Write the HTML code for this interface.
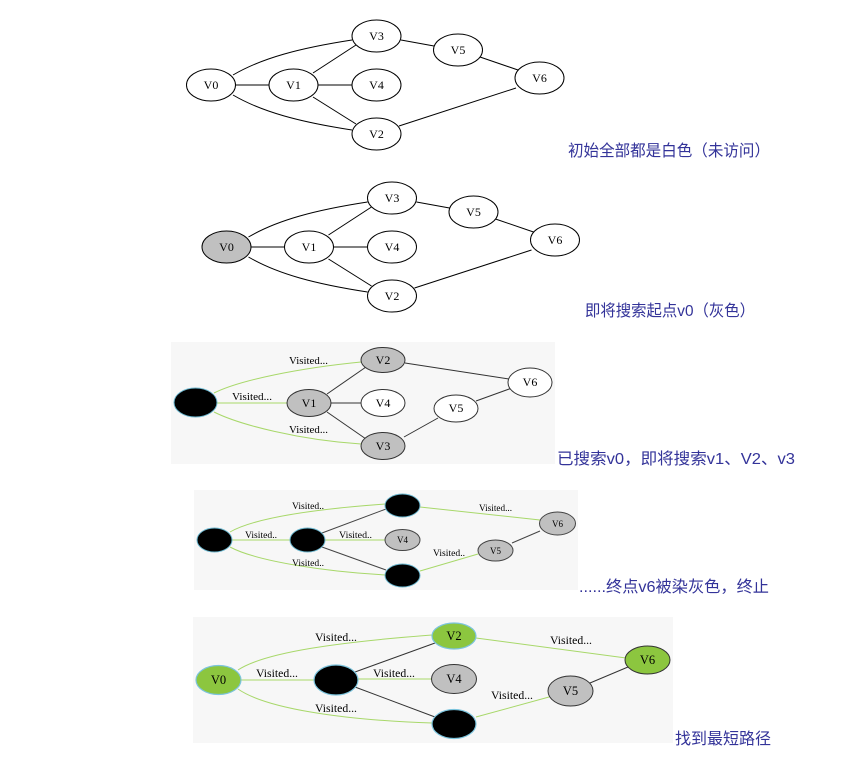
<!DOCTYPE html>
<html>
<head>
<meta charset="utf-8">
<style>
html,body{margin:0;padding:0;background:#fff;}
body{width:866px;height:759px;overflow:hidden;}
svg{display:block;}
.n{font-family:"Liberation Serif",serif;fill:#000;text-anchor:middle;}
.cap{font-family:"Liberation Sans","Noto Sans CJK SC",sans-serif;font-size:16px;fill:#333399;}
.lab{font-family:"Liberation Serif",serif;fill:#000;}
</style>
</head>
<body>
<svg width="866" height="759" viewBox="0 0 866 759" xmlns="http://www.w3.org/2000/svg">
<!-- ============ Graph 1 ============ -->
<g id="g1" stroke="#000" stroke-width="1" fill="none">
  <path d="M233,75 C262,58 300,48 352,40"/>
  <path d="M233,95 C262,112 300,122 352,130"/>
  <line x1="235" y1="85" x2="269" y2="85"/>
  <line x1="313" y1="73" x2="356" y2="45"/>
  <line x1="318" y1="85" x2="352" y2="85"/>
  <line x1="313" y1="97" x2="356" y2="124"/>
  <line x1="401" y1="40" x2="434" y2="46"/>
  <line x1="480" y1="57" x2="518" y2="70"/>
  <line x1="399" y1="126" x2="516" y2="88"/>
</g>
<g fill="#fff" stroke="#000" stroke-width="1">
  <ellipse cx="211" cy="85" rx="24.5" ry="16"/>
  <ellipse cx="293.5" cy="85" rx="24.5" ry="16"/>
  <ellipse cx="376.5" cy="36" rx="24.5" ry="16"/>
  <ellipse cx="376.5" cy="85" rx="24.5" ry="16"/>
  <ellipse cx="376.5" cy="134" rx="24.5" ry="16"/>
  <ellipse cx="458" cy="50" rx="24.5" ry="16"/>
  <ellipse cx="539.5" cy="78" rx="24.5" ry="16"/>
</g>
<g class="n" font-size="12">
  <text x="211" y="89">V0</text>
  <text x="293.5" y="89">V1</text>
  <text x="376.5" y="40">V3</text>
  <text x="376.5" y="89">V4</text>
  <text x="376.5" y="138">V2</text>
  <text x="458" y="54">V5</text>
  <text x="539.5" y="82">V6</text>
</g>
<text class="cap" x="568" y="156" textLength="202" lengthAdjust="spacingAndGlyphs">初始全部都是白色（未访问）</text>

<!-- ============ Graph 2 ============ -->
<g transform="translate(15.5,162)">
<g stroke="#000" stroke-width="1" fill="none">
  <path d="M233,75 C262,58 300,48 352,40"/>
  <path d="M233,95 C262,112 300,122 352,130"/>
  <line x1="235" y1="85" x2="269" y2="85"/>
  <line x1="313" y1="73" x2="356" y2="45"/>
  <line x1="318" y1="85" x2="352" y2="85"/>
  <line x1="313" y1="97" x2="356" y2="124"/>
  <line x1="401" y1="40" x2="434" y2="46"/>
  <line x1="480" y1="57" x2="518" y2="70"/>
  <line x1="399" y1="126" x2="516" y2="88"/>
</g>
<g fill="#fff" stroke="#000" stroke-width="1">
  <ellipse cx="211" cy="85" rx="24.5" ry="16" fill="#c0c0c0"/>
  <ellipse cx="293.5" cy="85" rx="24.5" ry="16"/>
  <ellipse cx="376.5" cy="36" rx="24.5" ry="16"/>
  <ellipse cx="376.5" cy="85" rx="24.5" ry="16"/>
  <ellipse cx="376.5" cy="134" rx="24.5" ry="16"/>
  <ellipse cx="458" cy="50" rx="24.5" ry="16"/>
  <ellipse cx="539.5" cy="78" rx="24.5" ry="16"/>
</g>
<g class="n" font-size="12">
  <text x="211" y="89">V0</text>
  <text x="293.5" y="89">V1</text>
  <text x="376.5" y="40">V3</text>
  <text x="376.5" y="89">V4</text>
  <text x="376.5" y="138">V2</text>
  <text x="458" y="54">V5</text>
  <text x="539.5" y="82">V6</text>
</g>
</g>
<text class="cap" x="585" y="316" textLength="170" lengthAdjust="spacingAndGlyphs">即将搜索起点v0（灰色）</text>

<!-- ============ Graph 3 ============ -->
<rect x="171" y="342" width="384" height="122" fill="#f7f7f7"/>
<g fill="none" stroke-width="1">
  <path d="M214,393 C240,380 300,368 361,362" stroke="#a8d86a"/>
  <line x1="217" y1="403" x2="287" y2="403" stroke="#a8d86a"/>
  <path d="M214,412 C240,425 300,440 361,444" stroke="#a8d86a"/>
  <line x1="327" y1="394" x2="366" y2="367" stroke="#333"/>
  <line x1="331" y1="403" x2="361" y2="403" stroke="#333"/>
  <line x1="327" y1="412" x2="366" y2="439" stroke="#333"/>
  <line x1="405" y1="363" x2="509" y2="379" stroke="#333"/>
  <line x1="404" y1="437" x2="438" y2="418" stroke="#333"/>
  <line x1="476" y1="401" x2="512" y2="388" stroke="#333"/>
</g>
<ellipse cx="195.5" cy="402.5" rx="21.5" ry="14.5" fill="#000" stroke="#6bb7cf" stroke-width="1"/>
<g stroke="#333" stroke-width="1">
  <ellipse cx="383" cy="360" rx="22" ry="12.5" fill="#c0c0c0"/>
  <ellipse cx="309" cy="403" rx="22" ry="13.5" fill="#c0c0c0"/>
  <ellipse cx="383" cy="403" rx="22" ry="13.5" fill="#fff"/>
  <ellipse cx="383" cy="446" rx="22" ry="13.5" fill="#c0c0c0"/>
  <ellipse cx="456" cy="408.5" rx="22" ry="13.5" fill="#fff"/>
  <ellipse cx="530" cy="382.5" rx="22" ry="14.5" fill="#fff"/>
</g>
<g class="n" font-size="12">
  <text x="383" y="364">V2</text>
  <text x="309" y="407">V1</text>
  <text x="383" y="407">V4</text>
  <text x="383" y="450">V3</text>
  <text x="456" y="412">V5</text>
  <text x="530" y="386">V6</text>
</g>
<g class="lab" font-size="10.5">
  <text x="289" y="364" textLength="39" lengthAdjust="spacingAndGlyphs">Visited...</text>
  <text x="232" y="400" textLength="40" lengthAdjust="spacingAndGlyphs">Visited...</text>
  <text x="289" y="433" textLength="39" lengthAdjust="spacingAndGlyphs">Visited...</text>
</g>
<text class="cap" x="557" y="464" textLength="238" lengthAdjust="spacingAndGlyphs">已搜索v0，即将搜索v1、V2、v3</text>

<!-- ============ Graph 4 ============ -->
<rect x="194" y="490" width="384" height="100" fill="#f7f7f7"/>
<g fill="none" stroke-width="1">
  <path d="M230,532 C258,516 330,508 386,504" stroke="#a8d86a"/>
  <line x1="232" y1="540" x2="290" y2="540" stroke="#a8d86a"/>
  <path d="M230,547 C258,562 330,572 386,575" stroke="#a8d86a"/>
  <line x1="325" y1="540" x2="385" y2="540" stroke="#a8d86a"/>
  <line x1="420" y1="507" x2="540" y2="520" stroke="#a8d86a"/>
  <line x1="420" y1="571" x2="478" y2="554" stroke="#a8d86a"/>
  <line x1="322" y1="533" x2="386" y2="509" stroke="#444"/>
  <line x1="322" y1="547" x2="386" y2="570" stroke="#444"/>
  <line x1="512" y1="543" x2="540" y2="531" stroke="#444"/>
</g>
<g fill="#000" stroke="#6bb7cf" stroke-width="1">
  <ellipse cx="214.5" cy="540" rx="17.5" ry="12"/>
  <ellipse cx="402.5" cy="505.5" rx="17.5" ry="11.5"/>
  <ellipse cx="307.5" cy="540" rx="17.5" ry="12"/>
  <ellipse cx="402.5" cy="575.5" rx="17.5" ry="11.5"/>
</g>
<g stroke="#444" stroke-width="1" fill="#c0c0c0">
  <ellipse cx="402.5" cy="540" rx="17.5" ry="10.5"/>
  <ellipse cx="495.5" cy="550.5" rx="17.5" ry="10.5"/>
  <ellipse cx="557.5" cy="523.5" rx="18" ry="11.5"/>
</g>
<g class="n" font-size="9">
  <text x="402.5" y="543">V4</text>
  <text x="495.5" y="554">V5</text>
  <text x="557.5" y="527">V6</text>
</g>
<g class="lab" font-size="9.5">
  <text x="292" y="509" textLength="32" lengthAdjust="spacingAndGlyphs">Visited..</text>
  <text x="245" y="538" textLength="32" lengthAdjust="spacingAndGlyphs">Visited..</text>
  <text x="339" y="538" textLength="33" lengthAdjust="spacingAndGlyphs">Visited..</text>
  <text x="292" y="566" textLength="32" lengthAdjust="spacingAndGlyphs">Visited..</text>
  <text x="479" y="511" textLength="33" lengthAdjust="spacingAndGlyphs">Visited...</text>
  <text x="433" y="556" textLength="32" lengthAdjust="spacingAndGlyphs">Visited..</text>
</g>
<text class="cap" x="579" y="592" textLength="190" lengthAdjust="spacingAndGlyphs">......终点v6被染灰色，终止</text>

<!-- ============ Graph 5 ============ -->
<rect x="193" y="617" width="480" height="126" fill="#f7f7f7"/>
<g fill="none" stroke-width="1">
  <path d="M238,670 C265,652 340,642 432,635" stroke="#a8d86a"/>
  <line x1="241" y1="680" x2="314" y2="680" stroke="#a8d86a"/>
  <path d="M238,689 C265,708 340,720 432,723" stroke="#a8d86a"/>
  <line x1="358" y1="679" x2="431" y2="679" stroke="#a8d86a"/>
  <line x1="476" y1="638" x2="626" y2="658" stroke="#a8d86a"/>
  <line x1="476" y1="717" x2="549" y2="697" stroke="#a8d86a"/>
  <line x1="355" y1="672" x2="435" y2="643" stroke="#333"/>
  <line x1="355" y1="687" x2="435" y2="717" stroke="#333"/>
  <line x1="590" y1="683" x2="628" y2="667" stroke="#333"/>
</g>
<g stroke="#7cc4dd" stroke-width="1.2" fill="#8cc63f">
  <ellipse cx="218.5" cy="680" rx="22.5" ry="14.5"/>
  <ellipse cx="454" cy="636" rx="22" ry="13"/>
</g>
<ellipse cx="647.5" cy="660" rx="22.5" ry="14" fill="#8cc63f" stroke="#333" stroke-width="1"/>
<g fill="#000" stroke="#7cc4dd" stroke-width="1.2">
  <ellipse cx="336" cy="680" rx="22" ry="15"/>
  <ellipse cx="454" cy="724" rx="22" ry="14.5"/>
</g>
<g stroke="#333" stroke-width="1" fill="#c0c0c0">
  <ellipse cx="454" cy="679" rx="22.5" ry="14.5"/>
  <ellipse cx="570.5" cy="691" rx="22.5" ry="15"/>
</g>
<g class="n" font-size="12.5">
  <text x="218.5" y="684">V0</text>
  <text x="454" y="640">V2</text>
  <text x="454" y="683">V4</text>
  <text x="570.5" y="695">V5</text>
  <text x="647.5" y="664">V6</text>
</g>
<g class="lab" font-size="12">
  <text x="315" y="641" textLength="42" lengthAdjust="spacingAndGlyphs">Visited...</text>
  <text x="256" y="677" textLength="42" lengthAdjust="spacingAndGlyphs">Visited...</text>
  <text x="373" y="677" textLength="42" lengthAdjust="spacingAndGlyphs">Visited...</text>
  <text x="315" y="712" textLength="42" lengthAdjust="spacingAndGlyphs">Visited...</text>
  <text x="550" y="644" textLength="42" lengthAdjust="spacingAndGlyphs">Visited...</text>
  <text x="491" y="699" textLength="42" lengthAdjust="spacingAndGlyphs">Visited...</text>
</g>
<text class="cap" x="675" y="744" textLength="96" lengthAdjust="spacingAndGlyphs">找到最短路径</text>
</svg>
</body>
</html>
